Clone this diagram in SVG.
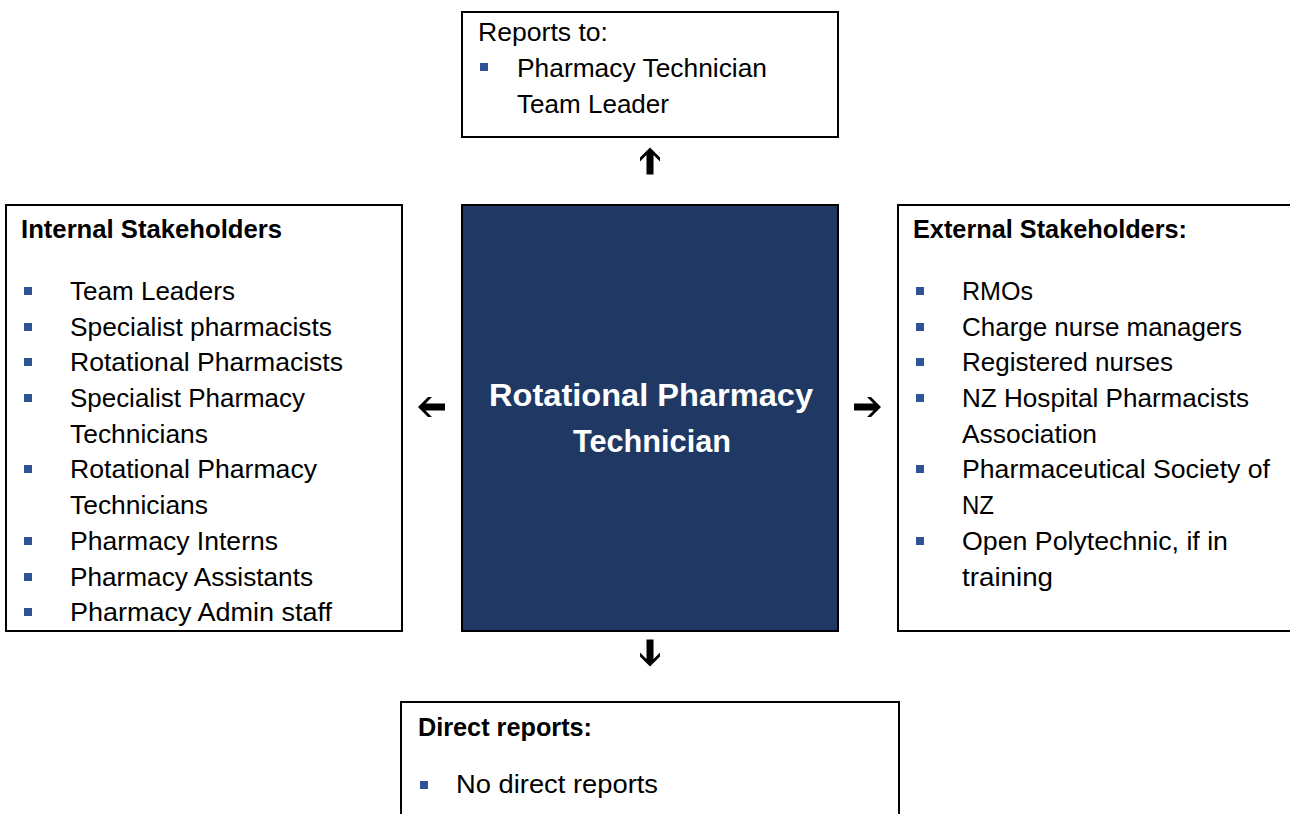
<svg xmlns="http://www.w3.org/2000/svg" width="1290" height="814" viewBox="0 0 1290 814">
<style>
.box{fill:#ffffff;stroke:#000000;stroke-width:2}
.core{fill:#203864;stroke:#000000;stroke-width:2}
.t{font-family:"Liberation Sans",Arial,sans-serif;font-size:26px;fill:#000000}
.b{font-weight:bold}
.ct{font-family:"Liberation Sans",Arial,sans-serif;font-size:32px;font-weight:bold;fill:#ffffff}
.bul{fill:#2F5496}
.arr{fill:#000000}
</style>
<defs>
<path id="arrowL" d="M -13.5 0 L -3.5 -10 L 0.5 -10 L -6 -3.5 L 13.5 -3.5 L 13.5 3.5 L -6 3.5 L 0.5 10 L -3.5 10 Z"/>
<rect id="sq" x="-4" y="-4" width="8" height="8"/>
</defs>
<rect width="1290" height="814" fill="#ffffff"/>

<g id="reports-to">
<rect class="box" x="462" y="12" width="376" height="125"/>
<text class="t" x="478" y="41" textLength="130" lengthAdjust="spacingAndGlyphs">Reports to:</text>
<use href="#sq" class="bul" x="484" y="67"/>
<text class="t" x="517" y="77" textLength="250" lengthAdjust="spacingAndGlyphs">Pharmacy Technician</text>
<text class="t" x="517" y="113" textLength="152" lengthAdjust="spacingAndGlyphs">Team Leader</text>
</g>

<g id="internal-stakeholders">
<rect class="box" x="6" y="205" width="396" height="426"/>
<text class="t b" x="21" y="238" textLength="261" lengthAdjust="spacingAndGlyphs">Internal Stakeholders</text>
<use href="#sq" class="bul" x="28" y="291"/>
<text class="t" x="70" y="300" textLength="165" lengthAdjust="spacingAndGlyphs">Team Leaders</text>
<use href="#sq" class="bul" x="28" y="327"/>
<text class="t" x="70" y="336" textLength="262" lengthAdjust="spacingAndGlyphs">Specialist pharmacists</text>
<use href="#sq" class="bul" x="28" y="362"/>
<text class="t" x="70" y="371" textLength="273" lengthAdjust="spacingAndGlyphs">Rotational Pharmacists</text>
<use href="#sq" class="bul" x="28" y="398"/>
<text class="t" x="70" y="407" textLength="235" lengthAdjust="spacingAndGlyphs">Specialist Pharmacy</text>
<text class="t" x="70" y="443" textLength="138" lengthAdjust="spacingAndGlyphs">Technicians</text>
<use href="#sq" class="bul" x="28" y="469"/>
<text class="t" x="70" y="478" textLength="247" lengthAdjust="spacingAndGlyphs">Rotational Pharmacy</text>
<text class="t" x="70" y="514" textLength="138" lengthAdjust="spacingAndGlyphs">Technicians</text>
<use href="#sq" class="bul" x="28" y="541"/>
<text class="t" x="70" y="550" textLength="208" lengthAdjust="spacingAndGlyphs">Pharmacy Interns</text>
<use href="#sq" class="bul" x="28" y="577"/>
<text class="t" x="70" y="586" textLength="243" lengthAdjust="spacingAndGlyphs">Pharmacy Assistants</text>
<use href="#sq" class="bul" x="28" y="612"/>
<text class="t" x="70" y="621" textLength="262" lengthAdjust="spacingAndGlyphs">Pharmacy Admin staff</text>
</g>

<g id="role">
<rect class="core" x="462" y="205" width="376" height="426"/>
<text class="ct" x="489" y="406" textLength="324" lengthAdjust="spacingAndGlyphs">Rotational Pharmacy</text>
<text class="ct" x="573" y="452" textLength="158" lengthAdjust="spacingAndGlyphs">Technician</text>
</g>

<g id="external-stakeholders">
<rect class="box" x="898" y="205" width="402" height="426"/>
<text class="t b" x="913" y="238" textLength="274" lengthAdjust="spacingAndGlyphs">External Stakeholders:</text>
<use href="#sq" class="bul" x="920" y="291"/>
<text class="t" x="962" y="300" textLength="71" lengthAdjust="spacingAndGlyphs">RMOs</text>
<use href="#sq" class="bul" x="920" y="327"/>
<text class="t" x="962" y="336" textLength="280" lengthAdjust="spacingAndGlyphs">Charge nurse managers</text>
<use href="#sq" class="bul" x="920" y="362"/>
<text class="t" x="962" y="371" textLength="211" lengthAdjust="spacingAndGlyphs">Registered nurses</text>
<use href="#sq" class="bul" x="920" y="398"/>
<text class="t" x="962" y="407" textLength="287" lengthAdjust="spacingAndGlyphs">NZ Hospital Pharmacists</text>
<text class="t" x="962" y="443" textLength="135" lengthAdjust="spacingAndGlyphs">Association</text>
<use href="#sq" class="bul" x="920" y="469"/>
<text class="t" x="962" y="478" textLength="308" lengthAdjust="spacingAndGlyphs">Pharmaceutical Society of</text>
<text class="t" x="962" y="514" textLength="32" lengthAdjust="spacingAndGlyphs">NZ</text>
<use href="#sq" class="bul" x="920" y="541"/>
<text class="t" x="962" y="550" textLength="266" lengthAdjust="spacingAndGlyphs">Open Polytechnic, if in</text>
<text class="t" x="962" y="586" textLength="91" lengthAdjust="spacingAndGlyphs">training</text>
</g>

<g id="direct-reports">
<rect class="box" x="401" y="702" width="498" height="130"/>
<text class="t b" x="418" y="736" textLength="174" lengthAdjust="spacingAndGlyphs">Direct reports:</text>
<use href="#sq" class="bul" x="424" y="785"/>
<text class="t" x="456" y="793" textLength="202" lengthAdjust="spacingAndGlyphs">No direct reports</text>
</g>

<g id="connectors">
<use href="#arrowL" class="arr" transform="translate(650,161) rotate(90)"/>
<use href="#arrowL" class="arr" transform="translate(431.5,407)"/>
<use href="#arrowL" class="arr" transform="translate(867.5,407) rotate(180)"/>
<use href="#arrowL" class="arr" transform="translate(650,653) rotate(-90)"/>
</g>
</svg>
